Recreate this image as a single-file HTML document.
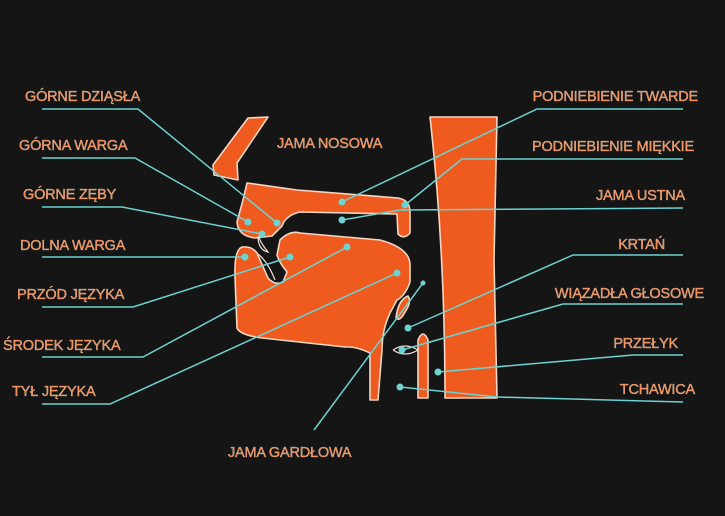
<!DOCTYPE html>
<html><head><meta charset="utf-8"><style>
html,body{margin:0;padding:0;background:#151515;}
svg{display:block}
text{font-family:"Liberation Sans",sans-serif;font-size:14.5px;fill:#f08a55;stroke:#f6c9a8;stroke-width:0.3px;letter-spacing:-0.2px}
</style></head><body>
<svg width="725" height="516" viewBox="0 0 725 516" xmlns="http://www.w3.org/2000/svg">
<rect width="725" height="516" fill="#151515"/>
<g fill="#ef5b1f" stroke="#f3d6c3" stroke-width="1.6" stroke-linejoin="round">
<path d="M248,118 L268,117 L237,163 L238,180 L214,175 L213,165 Z"/>
<path d="M247,183 L297,190 L398,198 Q410,200 410,212 L410,233 Q404,240 398,234 L397,214 L300,212 Q286,215 282,226 L272,236 L255,238 Q238,236 237,222 L243,200 Z"/>
<path d="M280,240 Q290,230 300,233 L380,240 Q410,248 410,265 L410,282 Q405,296 397,300 L390,313 Q382,330 382,350 L378,400 L370,400 L370,353 Q355,346 345,347 L262,338 Q240,335 237,328 L235,277 Q234,250 242,247 Q252,246 257,253 L268,278 Q275,286 283,282 L287,272 Q279,262 277,255 Z"/>
<path d="M430,117 L497,117 L494,260 L497,398 L445,398 Q445,250 430,117 Z"/>
<path d="M418,398 L418,340 Q423,328 428,340 L428,398 Z"/>
<path d="M396,318 Q398,300 408,296 Q412,302 405,312 Q400,322 396,318 Z"/>
</g>
<g fill="none" stroke="#f3e0d4" stroke-width="1.2">
<path d="M258,236 Q262,245 268,252 Q258,250 258,236"/>
<path d="M258,254 Q268,262 275,280"/>
<path d="M393,350 Q405,342 418,350 Q405,358 393,350"/>
</g>
<g fill="none" stroke="#6cd3d2" stroke-width="1.5">
<polyline points="42,109 138,109 277,223"/>
<polyline points="42,158 135,158 248,222"/>
<polyline points="42,207 122,207 262,234"/>
<polyline points="42,257 245,257"/>
<polyline points="42,307 133,307 290,257"/>
<polyline points="42,357 143,357 347,247"/>
<polyline points="42,404 110,404 397,273"/>
<polyline points="683,109 537,109 342,202"/>
<polyline points="683,159 462,159 405,205"/>
<polyline points="683,208 400,210 342,220"/>
<polyline points="683,255 573,255 408,328"/>
<polyline points="683,304 563,304 402,350"/>
<polyline points="683,355 633,355 438,372"/>
<polyline points="683,402 497,397 400,387"/>
<polyline points="314,430 423,283"/>
</g>
<g fill="#6cd3d2">
<circle cx="277" cy="223" r="3.5"/><circle cx="248" cy="222" r="3.5"/><circle cx="262" cy="234" r="3.5"/>
<circle cx="245" cy="257" r="3.5"/><circle cx="290" cy="257" r="3.5"/><circle cx="347" cy="247" r="3.5"/>
<circle cx="397" cy="273" r="3.5"/><circle cx="342" cy="202" r="3.5"/><circle cx="405" cy="205" r="3.5"/>
<circle cx="342" cy="220" r="3.5"/><circle cx="408" cy="328" r="3.5"/><circle cx="402" cy="350" r="3.5"/>
<circle cx="438" cy="372" r="3.5"/><circle cx="400" cy="387" r="3.5"/><circle cx="423" cy="283" r="2.5"/>
</g>
<text x="25" y="101">GÓRNE DZIĄSŁA</text>
<text x="19" y="150">GÓRNA WARGA</text>
<text x="23" y="199">GÓRNE ZĘBY</text>
<text x="20" y="250">DOLNA WARGA</text>
<text x="17" y="299">PRZÓD JĘZYKA</text>
<text x="3" y="350">ŚRODEK JĘZYKA</text>
<text x="12" y="396">TYŁ JĘZYKA</text>
<text x="277" y="148">JAMA NOSOWA</text>
<text x="228" y="457">JAMA GARDŁOWA</text>
<g text-anchor="end">
<text x="698" y="101">PODNIEBIENIE TWARDE</text>
<text x="694" y="151">PODNIEBIENIE MIĘKKIE</text>
<text x="685" y="200">JAMA USTNA</text>
<text x="665" y="249">KRTAŃ</text>
<text x="704" y="298">WIĄZADŁA GŁOSOWE</text>
<text x="678" y="348">PRZEŁYK</text>
<text x="695" y="394">TCHAWICA</text>
</g>
</svg>
</body></html>
